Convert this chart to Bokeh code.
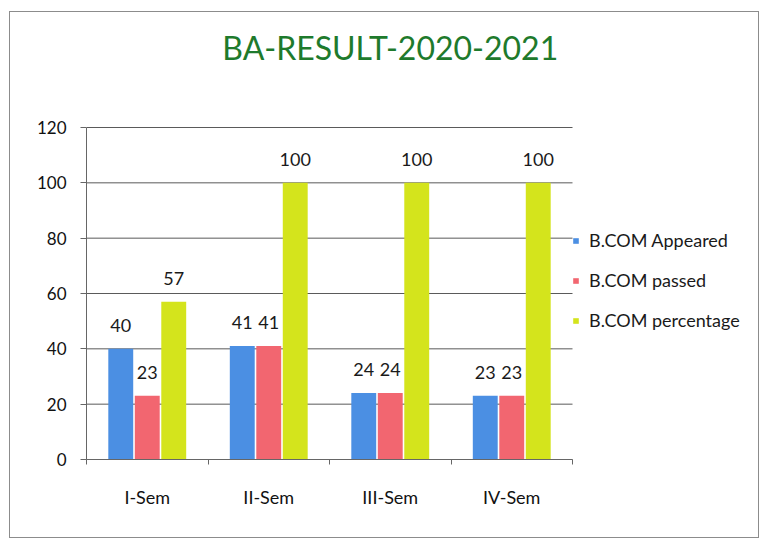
from bokeh.plotting import figure
from bokeh.models import (FixedTicker, Legend, LegendItem, Label, LabelSet,
                          ColumnDataSource)
from bokeh.core.properties import value
from bokeh.transform import dodge
from bokeh.embed import file_html
from bokeh.resources import INLINE

# ---- data ----
semesters = ["I-Sem", "II-Sem", "III-Sem", "IV-Sem"]
appeared = [40, 41, 24, 23]
passed = [23, 41, 24, 23]
percentage = [57, 100, 100, 100]
series_names = ["B.COM Appeared", "B.COM passed", "B.COM percentage"]
y_ticks = [0, 20, 40, 60, 80, 100, 120]
title_text = "BA-RESULT-2020-2021"

colors = ["#4b8fe3", "#f26670", "#d4e41c"]
FONT = "Lato"

# ---- layout geometry (pixels) ----
W, H = 750, 527
LEFT, BOTTOM = 76, 80
PX_PER_CAT = 121.5          # width of one category on the x axis
PX_PER_UNIT_Y = 332 / 120   # 120 units span 332 px
n = len(semesters)
y_max = max(y_ticks)
x_end = (W - LEFT) / PX_PER_CAT
y_end = (H - BOTTOM) / PX_PER_UNIT_Y

xpos = [i + 0.5 for i in range(n)]
source = ColumnDataSource(dict(
    x=xpos,
    appeared=appeared, passed=passed, percentage=percentage,
    appeared_t=[str(v) for v in appeared],
    passed_t=[str(v) for v in passed],
    percentage_t=[str(v) for v in percentage],
))

p = figure(width=W, height=H, x_range=(0, x_end), y_range=(0, y_end),
           output_backend="svg", toolbar_location=None,
           min_border_left=LEFT, min_border_right=0,
           min_border_top=0, min_border_bottom=BOTTOM)
p.styles = {"border": "1px solid #8c8c8c", "margin": "11px 0 0 9px"}
p.outline_line_color = None
p.background_fill_color = "white"
p.border_fill_color = "white"

# horizontal grid lines, limited to the bar area
p.xgrid.grid_line_color = None
p.ygrid.grid_line_color = None
p.segment(x0=[0] * len(y_ticks), x1=[n] * len(y_ticks), y0=y_ticks, y1=y_ticks,
          line_color="#5a5a5a", line_width=1)

offsets = [-0.218, 0.0, 0.218]
cols = ["appeared", "passed", "percentage"]
renderers = []
for off, col, c in zip(offsets, cols, colors):
    r = p.vbar(x=dodge("x", off), top=col, width=0.205, source=source,
               fill_color=c, line_color=None)
    renderers.append(r)
    ls = LabelSet(x=dodge("x", off), y=col, text=col + "_t", source=source,
                  text_align="center", text_baseline="alphabetic", y_offset=17,
                  text_font=value(FONT), text_font_size="18px", text_color="#1a1a1a")
    p.add_layout(ls)

# axes
p.yaxis.ticker = FixedTicker(ticks=y_ticks)
p.yaxis.bounds = (0, y_max)
p.yaxis.minor_tick_line_color = None
p.yaxis.major_tick_out = 6
p.yaxis.major_tick_in = 0
p.yaxis.major_label_standoff = 14
p.yaxis.axis_line_color = "#666666"
p.yaxis.major_tick_line_color = "#666666"
p.yaxis.major_label_text_font_size = "17px"

p.xaxis.ticker = FixedTicker(ticks=xpos, minor_ticks=list(range(n + 1)))
p.xaxis.bounds = (0, n)
p.xaxis.major_label_overrides = {x: s for x, s in zip(xpos, semesters)}
p.xaxis.major_tick_out = 0
p.xaxis.major_tick_in = 0
p.xaxis.minor_tick_out = 5
p.xaxis.minor_tick_in = 0
p.xaxis.minor_tick_line_color = "#666666"
p.xaxis.major_label_standoff = 21
p.xaxis.axis_line_color = "#666666"
p.xaxis.major_label_text_font_size = "18px"

for ax in (p.xaxis, p.yaxis):
    ax.major_label_text_font = FONT
    ax.major_label_text_color = "#111111"

# title
title = Label(x=n / 2 + 0.5, y=y_max + 80 / PX_PER_UNIT_Y, text=title_text, text_align="center",
              text_baseline="alphabetic", text_font=FONT, text_font_size="32px",
              text_color="#1e7a2c")
p.add_layout(title)

# legend (just right of the bar area)
legend = Legend(items=[LegendItem(label=nm, renderers=[r]) for nm, r in zip(series_names, renderers)],
                location=(int(n * PX_PER_CAT), 128), orientation="vertical",
                glyph_width=7, glyph_height=7, label_standoff=10,
                spacing=18, label_height=21, padding=0, margin=0,
                border_line_color=None, background_fill_alpha=0,
                label_text_font=FONT, label_text_font_size="18px",
                label_text_color="#1a1a1a")
p.add_layout(legend)

open("out.html", "w").write(file_html(p, INLINE))
